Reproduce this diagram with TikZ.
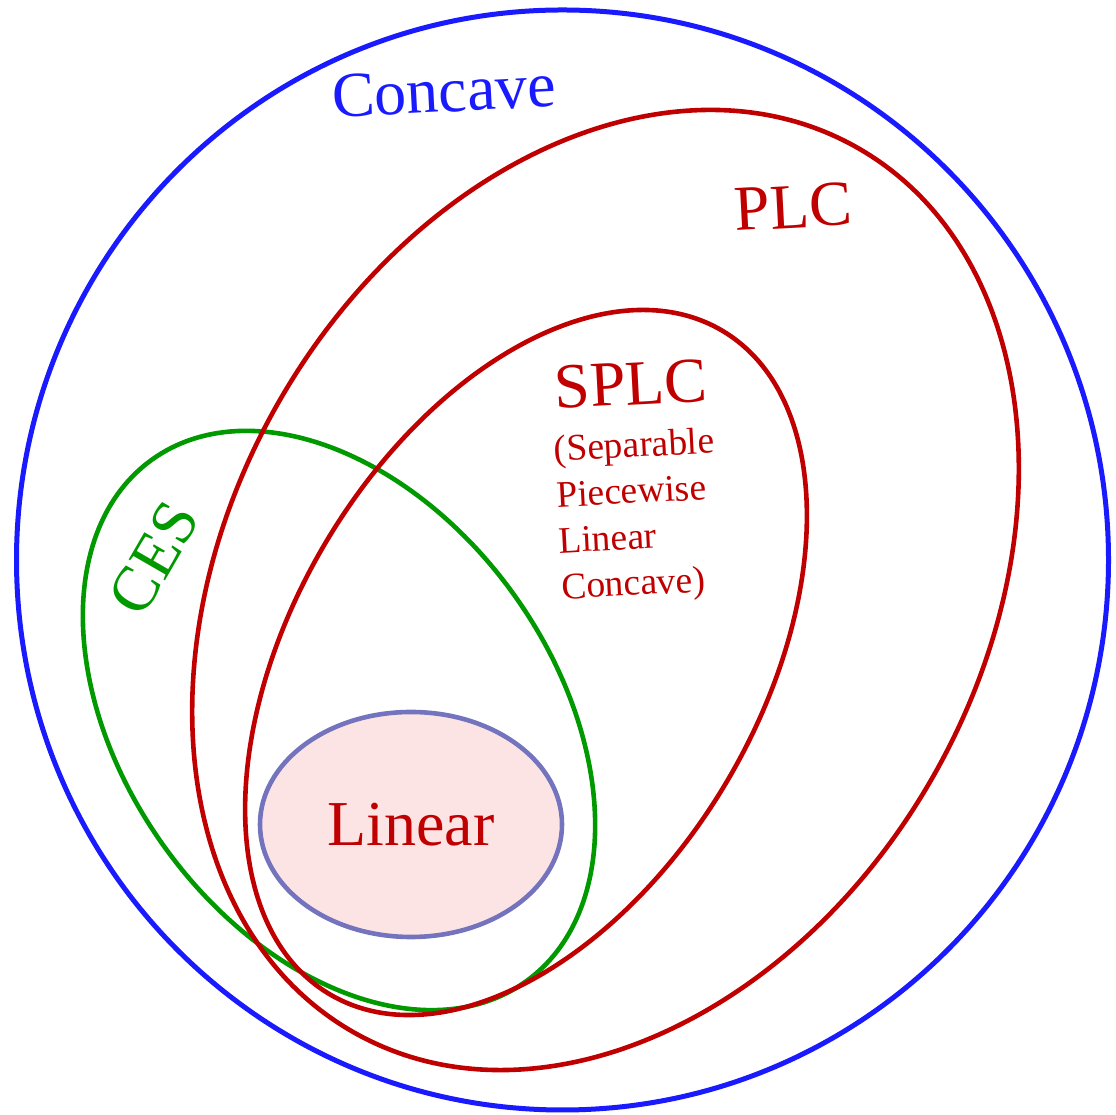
\documentclass[tikz,border=0pt]{standalone}
\usepackage{fontspec}
\setmainfont{Liberation Serif}
\usetikzlibrary{shapes}

\definecolor{setblue}{RGB}{26,26,255}
\definecolor{setred}{RGB}{192,0,0}
\definecolor{setgreen}{RGB}{0,153,0}
\definecolor{linborder}{RGB}{115,115,190}
\definecolor{linfill}{RGB}{253,228,228}

\begin{document}
\begin{tikzpicture}[x=1pt,y=1pt,
    set/.style={draw,shape=ellipse,line width=4.6pt,inner sep=0pt},
    big/.style={font=\fontsize{64}{64}\selectfont}]
    \useasboundingbox (0,0) rectangle (1116,1115);

    \node [set,draw=setblue,line width=5pt,minimum width=1092pt,minimum height=1100pt] (concave) at (562.5,555) {};
    \node [set,draw=setgreen,minimum width=642pt,minimum height=431pt,rotate=-54.4] (ces) at (339,394.5) {};
    \node [set,draw=setred,minimum width=1018pt,minimum height=754pt,rotate=60.3] (plc) at (605.5,525) {};
    \node [set,draw=setred,minimum width=771pt,minimum height=467pt,rotate=59.4] (splc) at (526,452.5) {};
    \node [set,big,draw=linborder,fill=linfill,text=setred,minimum width=302pt,minimum height=225pt] (lin) at (411,290.5) {Linear};

    \node [big,text=setblue,rotate=3] (tconcave) at (444,1024) {Concave};
    \node [big,text=setred,rotate=3] (tplc) at (793,908) {PLC};
    \node [big,text=setred,rotate=3] (tsplc) at (631,731) {SPLC};
    \node [text=setred,rotate=3,align=left,font=\fontsize{37.5}{46}\selectfont] (tsplcsub) at (638,598) {(Separable\\Piecewise\\Linear\\Concave)};
    \node [big,text=setgreen,rotate=60] (tces) at (154,557) {CES};
\end{tikzpicture}
\end{document}
